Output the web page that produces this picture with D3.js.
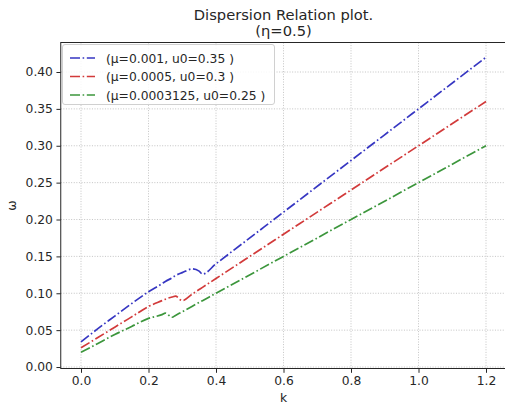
<!DOCTYPE html>
<html lang="en">
<head>
  <meta charset="UTF-8">
  <title>Dispersion Relation plot</title>
  <script src="https://cdn.jsdelivr.net/npm/d3@7"></script>
  <style>
    body { margin: 0; background: #fff; }
    text { font-family: "DejaVu Sans", sans-serif; fill: #262626; }
    .grid line { stroke: #bdbdbd; stroke-width: 0.9; stroke-dasharray: 1,1.6; }
  </style>
</head>
<body>
  <svg width="505" height="404"></svg>
  <script>
    // wave number k (shared grid)
    const kValues = [0, 0.05, 0.1, 0.15, 0.2, 0.24, 0.25, 0.27, 0.28, 0.3, 0.33, 0.35, 0.36, 0.4, 0.6, 0.8, 1.0, 1.2];

    // omega for each parameter set
    const omegaA = [0.034, 0.052, 0.069, 0.086, 0.102, 0.113, 0.116, 0.121, 0.124, 0.128, 0.133, 0.130, 0.126, 0.140, 0.210, 0.280, 0.350, 0.420];
    const omegaB = [0.026, 0.040, 0.054, 0.068, 0.082, 0.090, 0.092, 0.095, 0.096, 0.090, 0.099, 0.105, 0.108, 0.120, 0.180, 0.240, 0.300, 0.360];
    const omegaC = [0.020, 0.032, 0.044, 0.055, 0.066, 0.071, 0.073, 0.0675, 0.070, 0.075, 0.0825, 0.0875, 0.090, 0.100, 0.150, 0.200, 0.250, 0.300];

    const seriesNames = ["(\u03bc=0.001, u0=0.35 )", "(\u03bc=0.0005, u0=0.3 )", "(\u03bc=0.0003125, u0=0.25 )"];
    const seriesColors = ["#3636c2", "#d23a3a", "#3c963c"];

    const xTicks = [0, 0.2, 0.4, 0.6, 0.8, 1.0, 1.2];
    const yTicks = [0, 0.05, 0.1, 0.15, 0.2, 0.25, 0.3, 0.35, 0.4];

    const svg = d3.select("svg");
    const pl = 60.75, pr = 506.25, pt = 42.5, pb = 368.5;
    const dash = "10,2.6,1.6,2.6";

    const x = d3.scaleLinear().domain([-0.06, 1.26]).range([pl, pr]);
    const y = d3.scaleLinear().domain([-0.002, 0.44]).range([pb, pt]);

    // grid
    const grid = svg.append("g").attr("class", "grid");
    grid.selectAll(".gx").data(xTicks).enter().append("line")
        .attr("x1", d => x(d)).attr("x2", d => x(d))
        .attr("y1", pt).attr("y2", pb);
    grid.selectAll(".gy").data(yTicks).enter().append("line")
        .attr("x1", pl).attr("x2", pr)
        .attr("y1", d => y(d)).attr("y2", d => y(d));

    // lines
    const series = [omegaA, omegaB, omegaC];
    const line = d3.line()
        .x((d, i) => x(kValues[i]))
        .y(d => y(d))
        .curve(d3.curveMonotoneX);

    svg.append("g").selectAll("path")
       .data(series)
       .enter().append("path")
       .attr("d", d => line(d))
       .attr("fill", "none")
       .attr("stroke", (d, i) => seriesColors[i])
       .attr("stroke-width", 1.7)
       .attr("stroke-dasharray", dash);

    // axes
    const xAxis = svg.append("g")
       .attr("transform", `translate(0,${pb})`)
       .call(d3.axisBottom(x).tickValues(xTicks).tickFormat(d3.format(".1f")).tickSizeOuter(0).tickSize(4.3).tickPadding(3.5));
    const yAxis = svg.append("g")
       .attr("transform", `translate(${pl},0)`)
       .call(d3.axisLeft(y).tickValues(yTicks).tickFormat(d3.format(".2f")).tickSizeOuter(0).tickSize(4.3).tickPadding(3.5));
    [xAxis, yAxis].forEach(a => {
      a.select(".domain").remove();
      a.selectAll("text").style("font-size", "12.3px").style("fill", "#262626").attr("font-family", null);
      a.selectAll("line").attr("stroke", "#262626").attr("stroke-width", 1);
    });

    // frame
    svg.append("rect")
       .attr("x", pl).attr("y", pt)
       .attr("width", pr - pl).attr("height", pb - pt)
       .attr("fill", "none").attr("stroke", "#262626").attr("stroke-width", 1);

    // labels
    const cx = (pl + pr) / 2;
    svg.append("text").attr("x", cx).attr("y", 20).attr("text-anchor", "middle")
       .style("font-size", "14.7px").text("Dispersion Relation plot.");
    svg.append("text").attr("x", cx).attr("y", 36).attr("text-anchor", "middle")
       .style("font-size", "14.7px").text("(\u03b7=0.5)");
    svg.append("text").attr("x", cx).attr("y", 402).attr("text-anchor", "middle")
       .style("font-size", "12.3px").text("k");
    svg.append("text").attr("transform", `translate(16,${(pt + pb) / 2}) rotate(-90)`)
       .attr("text-anchor", "middle").style("font-size", "12.3px").text("\u03c9");

    // legend
    const legend = svg.append("g");
    legend.append("rect")
       .attr("x", 62.5).attr("y", 44.5).attr("width", 212).attr("height", 60)
       .attr("rx", 2.5).attr("fill", "#fff").attr("fill-opacity", 0.85)
       .attr("stroke", "#d0d0d0").attr("stroke-width", 1);
    const items = legend.selectAll(".item").data(seriesNames).enter().append("g")
       .attr("transform", (d, i) => `translate(0,${58 + i * 18.5})`);
    items.append("line")
       .attr("x1", 70).attr("x2", 95).attr("y1", 0).attr("y2", 0)
       .attr("stroke", (d, i) => seriesColors[i]).attr("stroke-width", 1.7)
       .attr("stroke-dasharray", dash);
    items.append("text").attr("x", 106).attr("y", 4.5)
       .style("font-size", "12.3px").text(d => d);
  </script>
</body>
</html>
